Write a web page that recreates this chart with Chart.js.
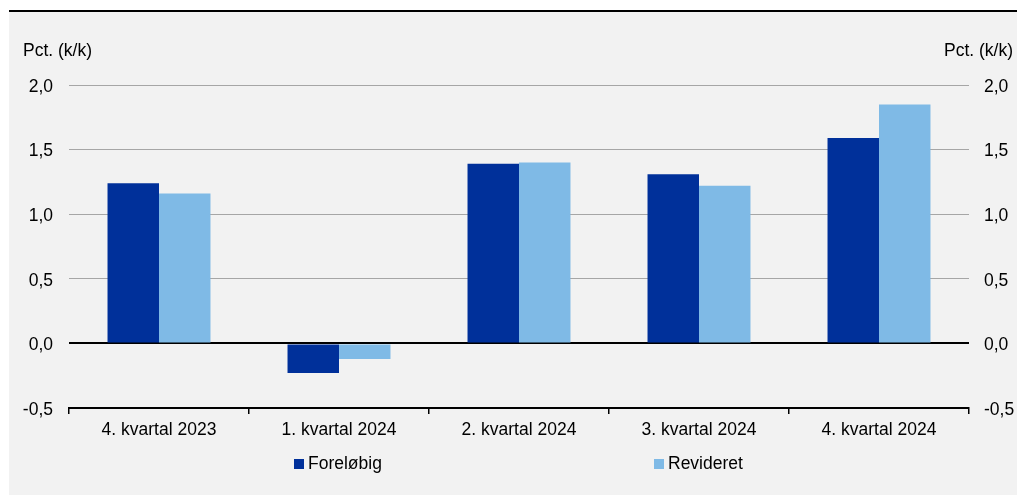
<!DOCTYPE html>
<html>
<head>
<meta charset="utf-8">
<script src="https://cdn.jsdelivr.net/npm/chart.js@4"></script>
<style>
  html, body { margin: 0; padding: 0; background: #ffffff; }
  #wrap { position: relative; width: 1017px; height: 495px; overflow: hidden; }
  #bg { position: absolute; left: 9px; top: 10px; width: 1008px; height: 483px; background: #f2f2f2; border-top: 2px solid #000; }
  #c { position: absolute; left: 0; top: 0; }
</style>
</head>
<body>
<div id="wrap">
  <div id="bg"></div>
  <canvas id="c" width="1017" height="495"></canvas>
</div>
<script>
const categories = ['4. kvartal 2023', '1. kvartal 2024', '2. kvartal 2024', '3. kvartal 2024', '4. kvartal 2024'];
const seriesNames = ['Foreløbig', 'Revideret'];
const forelobig = [1.24, -0.23, 1.39, 1.31, 1.59];
const revideret = [1.16, -0.12, 1.40, 1.22, 1.85];
const yMin = -0.5;
const yMax = 2.0;
const yStep = 0.5;
const axisTitle = 'Pct. (k/k)';

const DARK = '#00309a';
const LIGHT = '#7fbae6';
const FONT = '"Liberation Sans", Arial, sans-serif';
const FSIZE = 17.5;

const fmt = v => v.toFixed(1).replace('.', ',');

const overlay = {
  id: 'overlay',
  afterDraw(chart) {
    const ctx = chart.ctx;
    ctx.save();
    ctx.font = FSIZE + 'px ' + FONT;
    ctx.fillStyle = '#000';
    ctx.textBaseline = 'alphabetic';
    ctx.textAlign = 'left';
    ctx.fillText(axisTitle, 23, 56);
    ctx.textAlign = 'right';
    ctx.fillText(axisTitle, 1013, 56);
    // legend
    const lx = [294, 654];
    chart.data.datasets.forEach((ds, i) => {
      ctx.fillStyle = ds.backgroundColor;
      ctx.fillRect(lx[i], 459, 10, 10);
      ctx.fillStyle = '#000';
      ctx.textAlign = 'left';
      ctx.fillText(ds.label, lx[i] + 14, 469);
    });
    ctx.restore();
  }
};

Chart.defaults.font.family = FONT;
Chart.defaults.font.size = FSIZE;
Chart.defaults.color = '#000';

new Chart(document.getElementById('c'), {
  type: 'bar',
  data: {
    labels: categories,
    datasets: [
      { label: seriesNames[0], data: forelobig, backgroundColor: DARK, yAxisID: 'y' },
      { label: seriesNames[1], data: revideret, backgroundColor: LIGHT, yAxisID: 'y' }
    ]
  },
  options: {
    responsive: false,
    animation: false,
    devicePixelRatio: 1,
    categoryPercentage: 0.572,
    barPercentage: 1.0,
    layout: { padding: { top: 85, left: 0, right: 0, bottom: 0 } },
    plugins: {
      legend: { display: false },
      tooltip: { enabled: false }
    },
    scales: {
      x: {
        offset: true,
        grid: { offset: true, drawOnChartArea: false, drawTicks: true, tickLength: 6, color: '#000', lineWidth: 1.5 },
        border: { display: true, color: '#000', width: 2 },
        ticks: { padding: 6, maxRotation: 0, autoSkip: false },
        afterFit(s) { s.height = 87; }
      },
      y: {
        position: 'left',
        min: yMin, max: yMax,
        ticks: { stepSize: yStep, padding: 16, labelOffset: 2, callback: v => fmt(v) },
        grid: {
          drawTicks: false,
          color: c => (c.tick && Math.abs(c.tick.value) < 1e-9) ? '#000' : (c.tick && c.tick.value <= yMin + 1e-9 ? 'rgba(0,0,0,0)' : '#a6a6a6'),
          lineWidth: c => (c.tick && Math.abs(c.tick.value) < 1e-9) ? 2 : 1
        },
        border: { display: false },
        afterFit(s) { s.width = 69; }
      },
      y2: {
        position: 'right',
        min: yMin, max: yMax,
        ticks: { stepSize: yStep, padding: 15, labelOffset: 2, callback: v => fmt(v) },
        grid: { display: false, drawTicks: false },
        border: { display: false },
        afterFit(s) { s.width = 48; }
      }
    }
  },
  plugins: [overlay]
});
</script>
</body>
</html>
